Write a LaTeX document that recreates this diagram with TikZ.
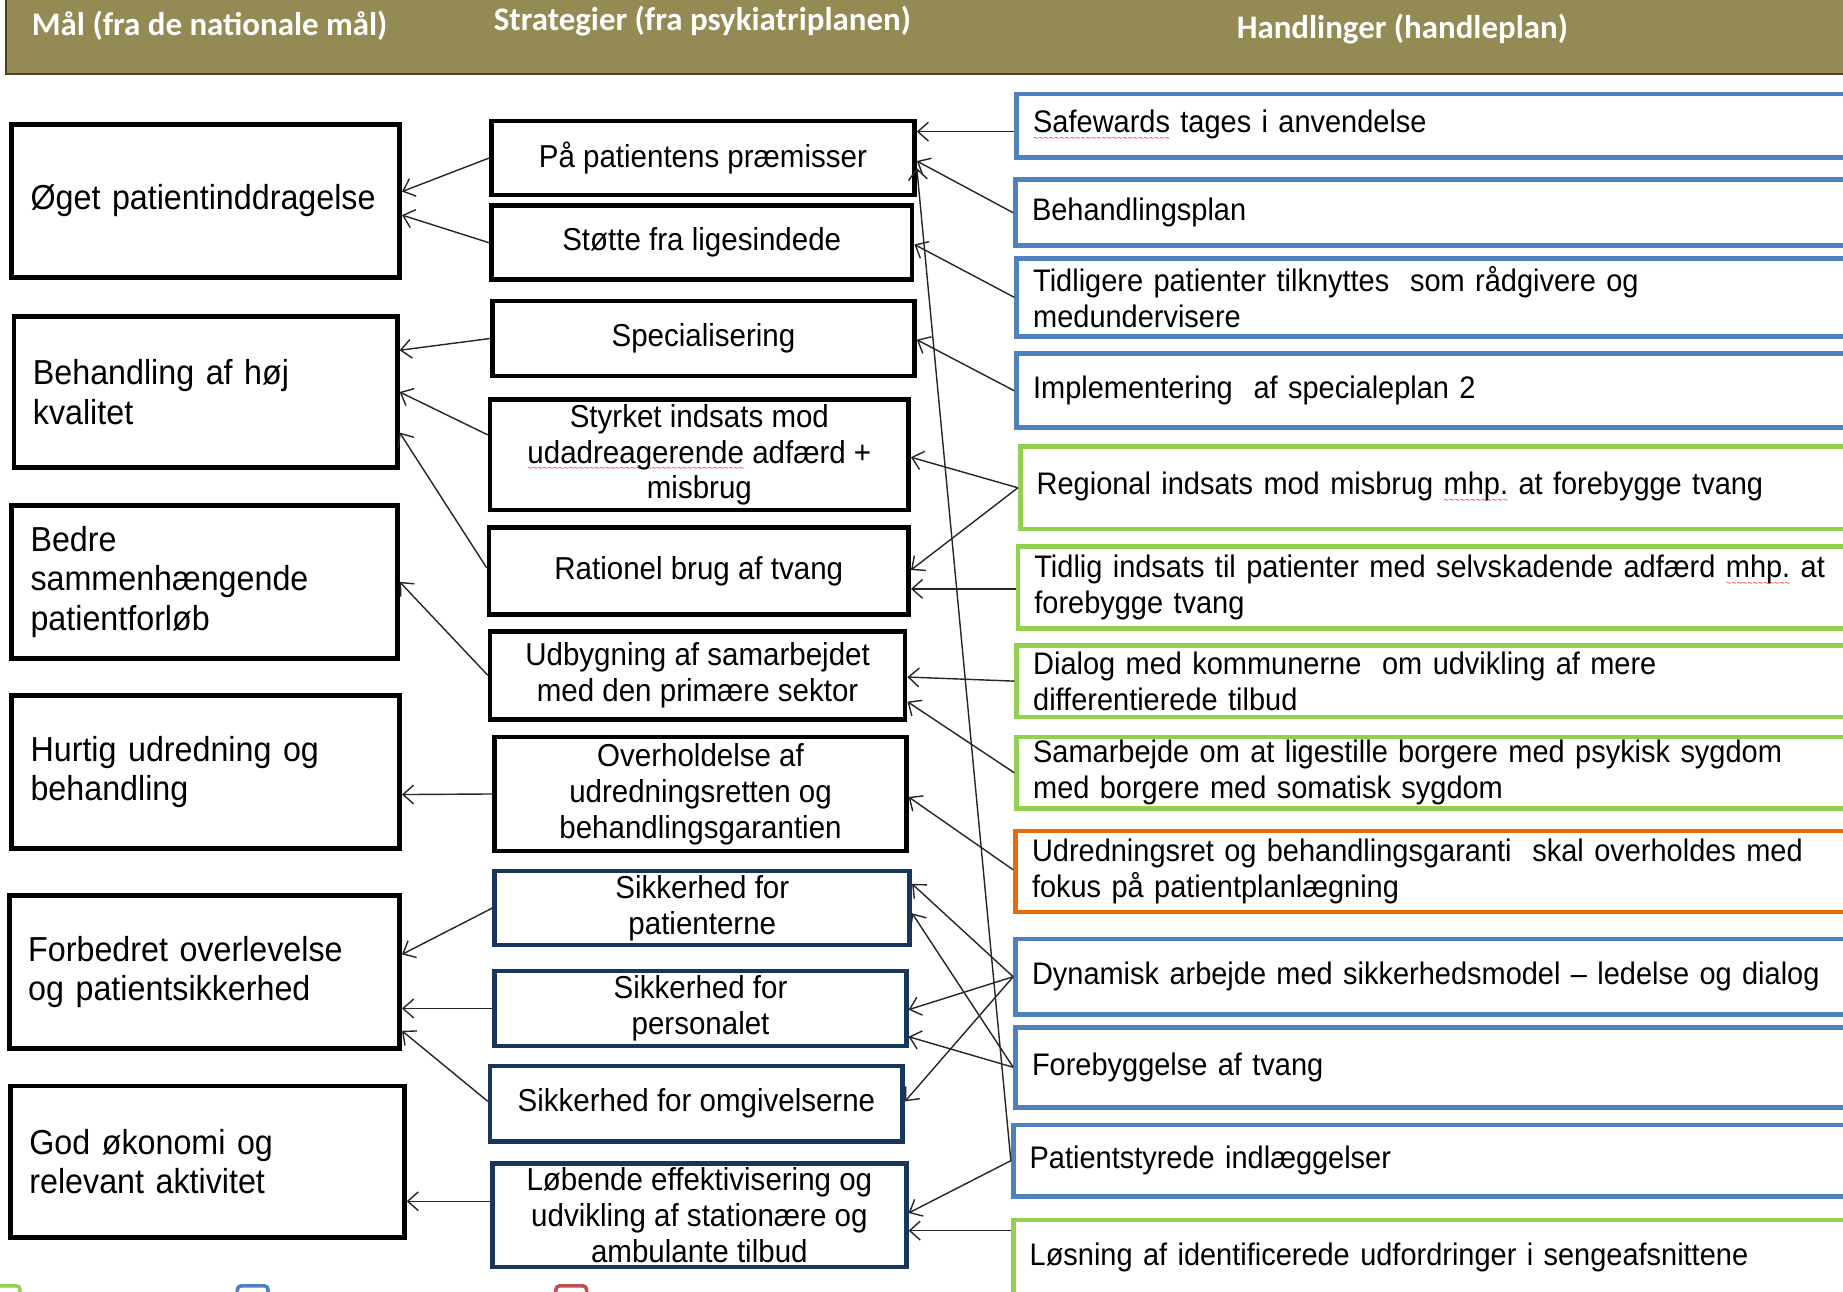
\documentclass[tikz,border=0pt]{standalone}
\usepackage{fontspec}
\setmainfont{Liberation Sans}[FakeStretch=0.93]
\newfontfamily\hdrfont{Carlito}
\usetikzlibrary{arrows.meta}
\definecolor{hdr}{HTML}{948A54}
\definecolor{hdrline}{HTML}{4A452A}
\definecolor{blu}{HTML}{4F81BD}
\definecolor{grn}{HTML}{92D050}
\definecolor{org}{HTML}{E46C0A}
\definecolor{nvy}{HTML}{17375E}
\definecolor{rd}{HTML}{C0504D}
\newsavebox{\spbox}
\newcommand\spellwave[1]{\sbox{\spbox}{#1}\rlap{\raisebox{-7pt}{\textcolor{red}{\hbox to \wd\spbox{\xleaders\hbox{\fontsize{8}{8}\selectfont\textasciitilde}\hfill}}}}\usebox{\spbox}}
\tikzset{
  lbox/.style={draw=black, line width=4pt, align=left, inner xsep=16pt, inner ysep=0pt,
    font=\fontsize{29.5}{33.5}\selectfont},
  mbox/.style={draw=black, line width=4pt, align=center, inner sep=0pt,
    font=\fontsize{27}{30.5}\selectfont},
  nbox/.style={mbox, draw=nvy},
  rbox/.style={line width=4pt, align=left, inner xsep=14pt, inner ysep=0pt, anchor=west,
    font=\fontsize{26.5}{30.5}\selectfont},
  hdrtxt/.style={text=white, inner sep=0pt, anchor=west, font=\hdrfont\bfseries\fontsize{28}{30}\selectfont},
  arr/.style={-{Straight Barb[length=9pt,width=16pt,line width=1.2pt]}, line width=1.2pt, draw=black!85},
}
\begin{document}
\begin{tikzpicture}[x=1pt,y=-1pt]
\useasboundingbox (0,0) rectangle (1568,1099);
\clip (0,0) rectangle (1568,1099);
% header
\fill[hdr] (5,-10) rectangle (1590,63);
\draw[hdrline, line width=2pt] (5,-10) -- (5,63) -- (1590,63);
\node[hdrtxt] (h1) at (27,22) {Mål (fra de nationale mål)};
\node[hdrtxt] (h2) at (420,18) {Strategier (fra psykiatriplanen)};
\node[hdrtxt] (h3) at (1052,25) {Handlinger (handleplan)};
% left column
\node[lbox, text width=298pt, minimum height=130pt] (l1) at (175,171) {\mbox{Øget patientinddragelse}};
\node[lbox, text width=294pt, minimum height=129pt] (l2) at (175,333.5) {\mbox{Behandling af høj}\\kvalitet};
\node[lbox, text width=296pt, minimum height=130pt] (l3) at (174,495) {Bedre\\\mbox{sammenhængende}\\\mbox{patientforløb}};
\node[lbox, text width=298pt, minimum height=130pt] (l4) at (175,657) {\mbox{Hurtig udredning og}\\behandling};
\node[lbox, text width=300pt, minimum height=130pt] (l5) at (174,827) {\mbox{Forbedret overlevelse}\\\mbox{og patientsikkerhed}};
\node[lbox, text width=303pt, minimum height=129pt] (l6) at (176.5,988.5) {\mbox{God økonomi og}\\\mbox{relevant aktivitet}};
% middle column
\node[mbox, minimum width=360pt, minimum height=63pt] (m1) at (598,134.5) {På patientens præmisser};
\node[mbox, minimum width=358pt, minimum height=63pt] (m2) at (597,206.5) {Støtte fra ligesindede};
\node[mbox, minimum width=359pt, minimum height=64pt] (m3) at (598.5,288) {Specialisering};
\node[mbox, minimum width=356pt, minimum height=94pt] (m4) at (595,387) {Styrket indsats mod\\\spellwave{udadreagerende} adfærd +\\misbrug};
\node[mbox, minimum width=357pt, minimum height=74pt] (m5) at (594.5,486) {Rationel brug af tvang};
\node[mbox, minimum width=353pt, minimum height=75pt] (m6) at (593.5,574.5) {Udbygning af samarbejdet\\med den primære sektor};
\node[mbox, minimum width=350pt, minimum height=97pt] (m7) at (596,675.5) {Overholdelse af\\udredningsretten og\\behandlingsgarantien};
\node[nbox, minimum width=353pt, minimum height=63pt] (m8) at (597.5,772.5) {Sikkerhed for\\patienterne};
\node[nbox, minimum width=350pt, minimum height=64pt] (m9) at (596,858) {Sikkerhed for\\personalet};
\node[nbox, minimum width=351pt, minimum height=64pt] (m10) at (592.5,939) {Sikkerhed for omgivelserne};
\node[nbox, minimum width=352pt, minimum height=88pt] (m11) at (595,1034) {Løbende effektivisering og\\udvikling af stationære og\\ambulante tilbud};
% right column
\node[rbox, draw=blu, text width=699pt, minimum height=54pt] (r1) at (863,107) {\spellwave{Safewards} tages i anvendelse};
\node[rbox, draw=blu, text width=700pt, minimum height=56pt] (r2) at (862,181) {Behandlingsplan};
\node[rbox, draw=blu, text width=699pt, minimum height=66pt] (r3) at (863,253) {Tidligere patienter tilknyttes\ \ som rådgivere og\\medundervisere};
\node[rbox, draw=blu, text width=699pt, minimum height=63pt] (r4) at (863,332.5) {Implementering\ \ af specialeplan 2};
\node[rbox, draw=grn, text width=696pt, minimum height=70pt] (r5) at (866,415) {Regional indsats mod misbrug \spellwave{mhp.} at forebygge tvang};
\node[rbox, draw=grn, text width=698pt, minimum height=70pt] (r6) at (864,500) {Tidlig indsats til patienter med selvskadende adfærd \spellwave{mhp.} at\\forebygge tvang};
\node[rbox, draw=grn, text width=699pt, minimum height=61pt] (r7) at (863,579.5) {Dialog med kommunerne\ \ om udvikling af mere\\differentierede tilbud};
\node[rbox, draw=grn, text width=699pt, minimum height=61pt] (r8) at (863,657.5) {Samarbejde om at ligestille borgere med psykisk sygdom\\med borgere med somatisk sygdom};
\node[rbox, draw=org, text width=700pt, minimum height=69pt] (r9) at (862,741.5) {Udredningsret og behandlingsgaranti\ \ skal overholdes med\\fokus på patientplanlægning};
\node[rbox, draw=blu, text width=700pt, minimum height=64pt] (r10) at (862,831) {Dynamisk arbejde med sikkerhedsmodel -- ledelse og dialog};
\node[rbox, draw=blu, text width=700pt, minimum height=68pt] (r11) at (862,908) {Forebyggelse af tvang};
\node[rbox, draw=blu, text width=702pt, minimum height=61pt] (r12) at (860,987.5) {Patientstyrede indlæggelser};
\node[rbox, draw=grn, text width=702pt, minimum height=64pt] (r13) at (860,1070) {Løsning af identificerede udfordringer i sengeafsnittene};
% legend squares (cut off)
\draw[grn, line width=3pt, rounded corners=3pt, fill=white] (-5,1094) rectangle (17,1125);
\draw[blu, line width=3pt, rounded corners=3pt, fill=white] (202,1094) rectangle (228,1125);
\draw[rd, line width=3pt, rounded corners=3pt, fill=white] (473,1094) rectangle (499,1125);
% middle -> left
\draw[arr] (m1.west) -- ([yshift=8pt]l1.east);
\draw[arr] (m2.west) -- ([yshift=-12pt]l1.east);
\draw[arr] (m3.west) -- ([yshift=35.5pt]l2.east);
\draw[arr] ([yshift=17pt]m4.west) -- (l2.east);
\draw[arr] ([yshift=3pt]m5.west) -- ([yshift=-34.5pt]l2.east);
\draw[arr] (m6.west) -- (l3.east);
\draw[arr] (m7.west) -- ([yshift=-19pt]l4.east);
\draw[arr] (m8.west) -- ([yshift=15pt]l5.east);
\draw[arr] (m9.west) -- ([yshift=-31pt]l5.east);
\draw[arr] ([yshift=2pt]m10.west) -- ([yshift=-50pt]l5.east);
\draw[arr] ([yshift=12pt]m11.west) -- ([yshift=-33.5pt]l6.east);
% right -> middle
\draw[arr] ([yshift=-5pt]r1.west) -- ([yshift=22.5pt]m1.east);
\draw[arr] (r2.west) -- ([yshift=-2.5pt]m1.east);
\draw[arr] (r3.west) -- ([yshift=-1.5pt]m2.east);
\draw[arr] (r4.west) -- ([yshift=-1pt]m3.east);
\draw[arr] (r5.west) -- ([yshift=-2pt]m4.east);
\draw[arr] (r5.west) -- ([yshift=1pt]m5.east);
\draw[arr] ([yshift=-1pt]r6.west) -- ([yshift=-15pt]m5.east);
\draw[arr] (r7.west) -- ([yshift=-1.5pt]m6.east);
\draw[arr] (r8.west) -- ([yshift=-22.5pt]m6.east);
\draw[arr] ([yshift=1.5pt]r9.west) -- ([yshift=-2.5pt]m7.east);
\draw[arr] (r10.west) -- ([yshift=20.5pt]m8.east);
\draw[arr] (r11.west) -- ([yshift=-4.5pt]m8.east);
\draw[arr] (r10.west) -- ([yshift=-1pt]m9.east);
\draw[arr] (r11.west) -- ([yshift=-24pt]m9.east);
\draw[arr] (r10.west) -- ([yshift=2pt]m10.east);
\draw[arr] (r12.west) -- ([yshift=-8.5pt]m1.east);
\draw[arr] (r12.west) -- ([yshift=2pt]m11.east);
\draw[arr] ([yshift=23pt]r13.west) -- ([yshift=-13pt]m11.east);
\end{tikzpicture}
\end{document}
